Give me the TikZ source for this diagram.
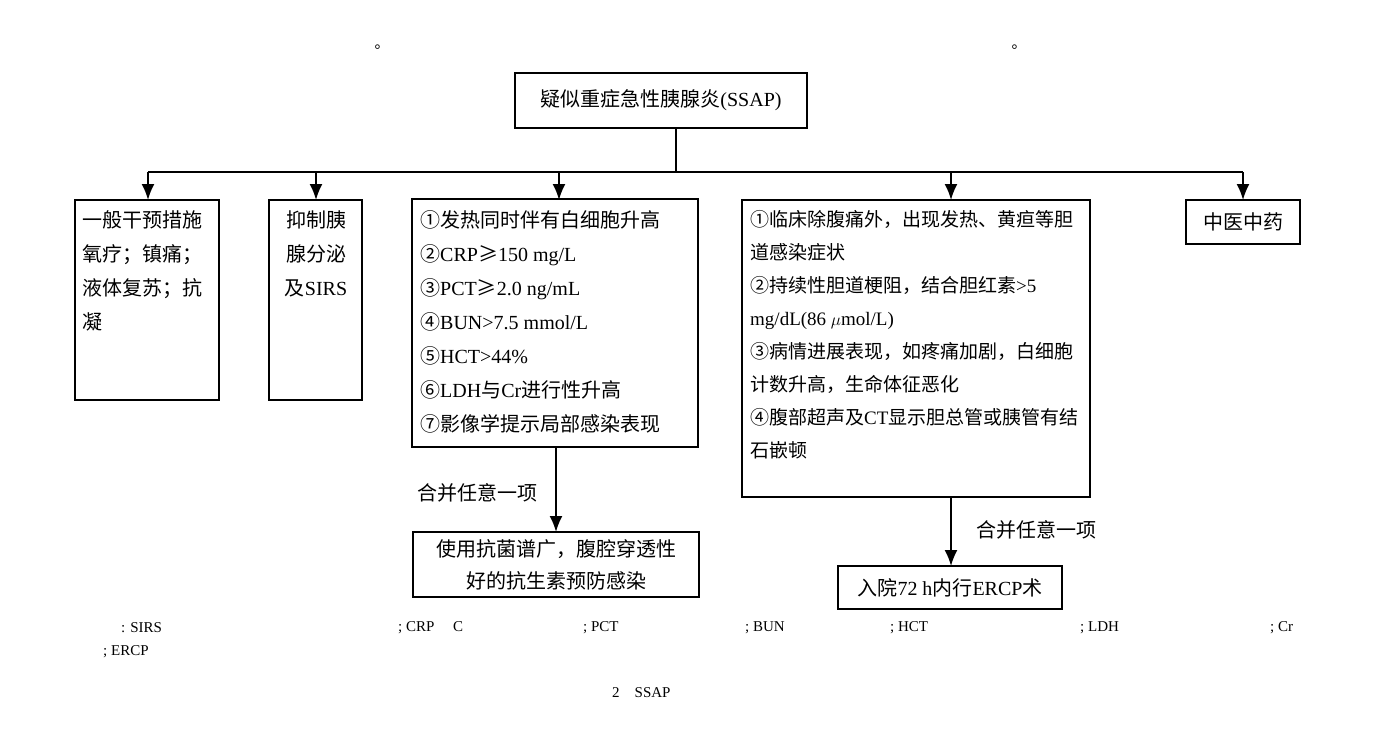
\documentclass[tikz,border=0pt]{standalone}
\usepackage{fontspec}
\usetikzlibrary{arrows.meta}
\setmainfont{Noto Sans CJK SC}
\newfontfamily\latf{Liberation Serif}
\newcommand{\LL}[1]{{\latf #1}}
\begin{document}
\begin{tikzpicture}[x=1pt,y=-1pt,
  box/.style={draw,line width=1.8pt},
  txt/.style={anchor=north west,align=left,inner sep=0pt,font=\fontsize{20}{34}\selectfont},
  lab/.style={font=\fontsize{20}{24}\selectfont},
  arr/.style={line width=1.8pt,-{Latex[length=16pt,width=13pt]}},
  note/.style={font=\fontsize{15}{18}\selectfont\latf,anchor=west,inner sep=0pt}]
\useasboundingbox (0,0) rectangle (1378,733);
\node[font=\fontsize{15}{18}\selectfont] (d1) at (382,47) {。};
\node[font=\fontsize{15}{18}\selectfont] (d2) at (1019,47) {。};
% top
\draw[box] (515,73) rectangle (807,128);
\node[lab] (top) at (661,100) {疑似重症急性胰腺炎\LL{(SSAP)}};
\coordinate (j) at (676,172);
\draw[line width=1.8pt] (676,128) -- (j);
\draw[line width=1.8pt] (148,172) -- (1243,172);
\foreach \x in {148,316,559,951,1243} \draw[arr] (\x,172) -- (\x,200);
% box1
\draw[box] (75,200) rectangle (219,400);
\node[txt] (b1) at (82,210) {一般干预措施\\氧疗；镇痛；\\液体复苏；抗\\凝};
% box2
\draw[box] (269,200) rectangle (362,400);
\node[txt,align=center,anchor=north] (b2) at (316,210) {抑制胰\\腺分泌\\及\LL{SIRS}};
% box3
\draw[box] (412,199) rectangle (698,447);
\node[txt] (b3) at (420,210) {①发热同时伴有白细胞升高\\②\LL{CRP}≥\LL{150 mg/L}\\③\LL{PCT}≥\LL{2.0 ng/mL}\\④\LL{BUN>7.5 mmol/L}\\⑤\LL{HCT>44\%}\\⑥\LL{LDH}与\LL{Cr}进行性升高\\⑦影像学提示局部感染表现};
\draw[arr] (556,447) -- (556,532);
\node[lab,anchor=east] (l1) at (541,493) {合并任意一项};
\draw[box] (413,532) rectangle (699,597);
\node[font=\fontsize{20}{32}\selectfont,align=center] (b3b) at (556,565) {使用抗菌谱广，腹腔穿透性\\好的抗生素预防感染};
% box5
\draw[box] (742,200) rectangle (1090,497);
\node[txt,font=\fontsize{19}{33}\selectfont] (b5) at (750,210) {①临床除腹痛外，出现发热、黄疸等胆\\道感染症状\\②持续性胆道梗阻，结合胆红素\LL{>5}\\\LL{mg/dL(86 $\mu$mol/L)}\\③病情进展表现，如疼痛加剧，白细胞\\计数升高，生命体征恶化\\④腹部超声及\LL{CT}显示胆总管或胰管有结\\石嵌顿};
\draw[arr] (951,497) -- (951,566);
\node[lab,anchor=west] (l2) at (973,530) {合并任意一项};
\draw[box] (838,566) rectangle (1062,609);
\node[lab] (b6) at (950,588) {入院\LL{72 h}内行\LL{ERCP}术};
% box7
\draw[box] (1186,200) rectangle (1300,244);
\node[lab] (b7) at (1243,222) {中医中药};
% footnotes
\node[note] (f1) at (121,628) {: SIRS};
\node[note] (f2) at (398,628) {; CRP\quad\ C};
\node[note] (f3) at (583,628) {; PCT};
\node[note] (f4) at (745,628) {; BUN};
\node[note] (f5) at (890,628) {; HCT};
\node[note] (f6) at (1080,628) {; LDH};
\node[note] (f7) at (1270,628) {; Cr};
\node[note] (f8) at (103,652) {; ERCP};
\node[note] (cap) at (612,693) {2\quad SSAP};
\end{tikzpicture}
\end{document}
